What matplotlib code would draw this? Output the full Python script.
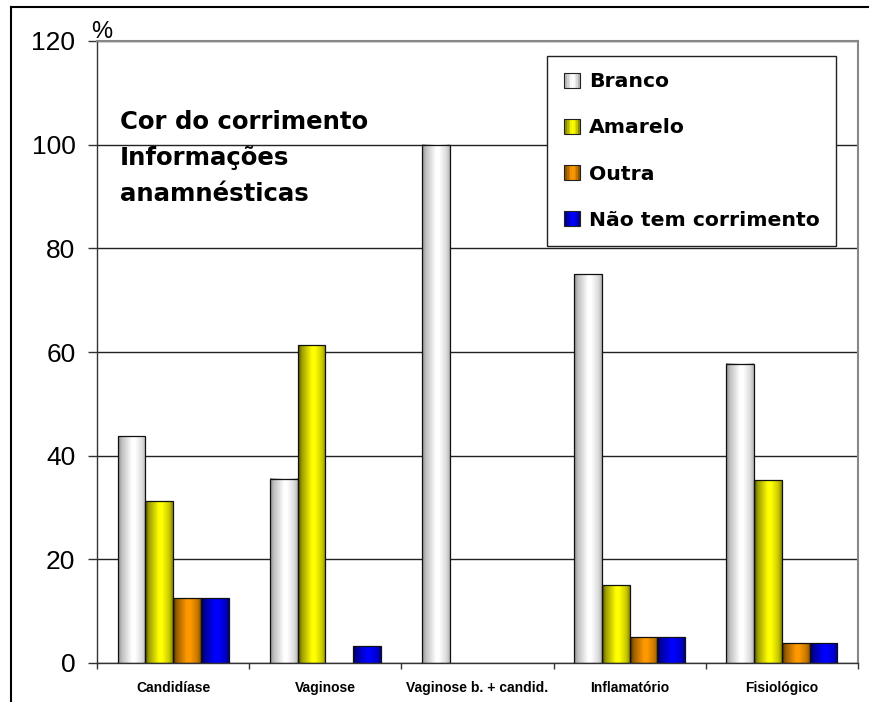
import numpy as np
import matplotlib
matplotlib.use('Agg')
import matplotlib.pyplot as plt
from matplotlib.colors import to_rgb
from matplotlib.lines import Line2D
from matplotlib.patches import Patch, Rectangle
from matplotlib.legend_handler import HandlerBase

plt.rcParams['font.family'] = ['Liberation Sans', 'DejaVu Sans']

# Percentages per diagnosis for each discharge colour
categories = ['Candidíase', 'Vaginose', 'Vaginose b. + candid.', 'Inflamatório', 'Fisiológico']
branco = [43.75, 35.5, 100.0, 75.0, 57.7]
amarelo = [31.25, 61.3, 0.0, 15.0, 35.3]
outra = [12.5, 0.0, 0.0, 5.0, 3.8]
sem_corrimento = [12.5, 3.2, 0.0, 5.0, 3.8]
series_names = ['Branco', 'Amarelo', 'Outra', 'Não tem corrimento']
series_colors = ['#ffffff', '#ffff00', '#ff9900', '#0000ff']
y_ticks = [0, 20, 40, 60, 80, 100, 120]


def shade(color, n=64):
    # horizontal "cylinder" shading: dark edges, bright middle
    t = np.linspace(0, 1, n)
    f = np.interp(t, [0, 0.12, 0.5, 0.62, 0.88, 1], [0.28, 0.6, 1.0, 1.0, 0.78, 0.55])
    rgb = np.array(to_rgb(color))
    if rgb.min() > 0.9:
        floor = 0.35
    else:
        floor = 0.0
    return floor + (1 - floor) * f[:, None] * rgb[None, :]


class GradientHandler(HandlerBase):
    def create_artists(self, legend, orig_handle, xdescent, ydescent,
                       width, height, fontsize, trans):
        cols = shade(orig_handle.get_facecolor(), n=10)
        x0, y0 = -xdescent, -ydescent
        step = width / len(cols)
        arts = []
        for i, c in enumerate(cols):
            arts.append(Rectangle((x0 + i * step, y0), step * 1.05, height,
                                  facecolor=c, edgecolor='none', transform=trans))
        arts.append(Rectangle((x0, y0), width, height, facecolor='none',
                              edgecolor='#222222', lw=0.8, transform=trans))
        return arts


fig = plt.figure(figsize=(8.7, 7.02), dpi=100)
ax = fig.add_axes([97 / 870, 1 - 663 / 702, 761 / 870, 622 / 702])

x = np.arange(len(categories))
w = 0.182
all_series = [branco, amarelo, outra, sem_corrimento]
for k, (vals, col) in enumerate(zip(all_series, series_colors)):
    grad = shade(col)[None, :, :]
    for xi, v in zip(x, vals):
        if v <= 0:
            continue
        x0 = xi + (k - 1.5) * w - w / 2
        ax.imshow(grad, extent=(x0, x0 + w, 0, v), aspect='auto',
                  interpolation='bilinear', zorder=2)
        ax.add_patch(Rectangle((x0, 0), w, v, facecolor='none',
                               edgecolor='#111111', lw=0.9, zorder=3))

ax.set_xlim(-0.5, len(categories) - 0.5)
ax.set_ylim(0, 120)
ax.set_aspect('auto')

ax.set_yticks(y_ticks)
ax.tick_params(axis='y', labelsize=19, length=6.5, width=1, pad=9, color='#333333')
ax.set_xticks(x)
ax.set_xticklabels(categories, fontsize=10, fontweight='bold')
ax.tick_params(axis='x', which='major', length=0, pad=13)
ax.set_xticks(np.arange(-0.5, len(categories), 1), minor=True)
ax.tick_params(axis='x', which='minor', length=4, width=1, color='#333333')

ax.set_axisbelow(True)
ax.yaxis.grid(True, color='#222222', lw=1)
for side in ['top', 'right']:
    ax.spines[side].set_color('#888888')
    ax.spines[side].set_linewidth(1.5)
for side in ['left', 'bottom']:
    ax.spines[side].set_color('#333333')
    ax.spines[side].set_linewidth(1)

ax.text(-0.008, 1.005, '%', transform=ax.transAxes, fontsize=17, va='baseline')

text_lines = ['Cor do corrimento', 'Informações', 'anamnésticas']
for i, line in enumerate(text_lines):
    ax.text(0.030, 0.8585 - i * 0.0580, line, transform=ax.transAxes,
            fontsize=17.6, fontweight='bold', family='DejaVu Sans',
            va='baseline', zorder=5)

handles = [Patch(facecolor=c) for c in series_colors]
leg = ax.legend(handles, series_names, loc='upper right', bbox_to_anchor=(0.971, 0.976),
                borderaxespad=0,
                prop={'weight': 'bold', 'size': 14.7, 'family': 'DejaVu Sans'},
                handler_map={Patch: GradientHandler()},
                handlelength=0.78, handleheight=0.75, handletextpad=0.45,
                labelspacing=1.33, borderpad=0.8, fancybox=False, framealpha=1)
leg.get_frame().set_edgecolor('#222222')
leg.get_frame().set_linewidth(1)
leg.set_zorder(6)

# outer frame of the figure
fig.add_artist(Line2D([11 / 870, 11 / 870], [0, 1 - 7 / 702], color='black', lw=1.5,
                      transform=fig.transFigure))
fig.add_artist(Line2D([11 / 870, 1], [1 - 7 / 702, 1 - 7 / 702], color='black', lw=1.5,
                      transform=fig.transFigure))

fig.savefig('out.png', dpi=100)
